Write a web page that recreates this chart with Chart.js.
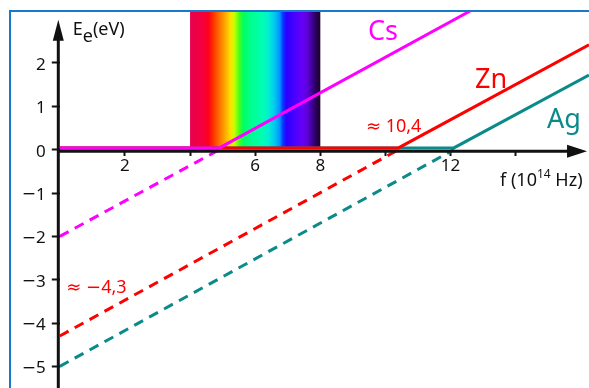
<!DOCTYPE html>
<html>
<head>
<meta charset="utf-8">
<script src="https://cdn.jsdelivr.net/npm/chart.js@4"></script>
<style>
  html, body { margin: 0; padding: 0; background: #fff; overflow: hidden; }
  #wrap { position: relative; width: 589px; height: 388px; }
  #frame {
    position: absolute; left: 9px; top: 10px; width: 700px; height: 500px;
    border-left: 2.5px solid #1a78cc; border-top: 2.5px solid #1a78cc;
    pointer-events: none;
  }
</style>
</head>
<body>
<div id="wrap">
  <canvas id="photo" width="589" height="388"></canvas>
  <div id="frame"></div>
</div>
<script>
  // photoelectric effect: kinetic energy of the electrons vs. light frequency
  const metals = ['Cs', 'Zn', 'Ag'];
  const metalColors = ['#ff00ff', '#ff0000', '#0b8a8a'];
  const intercepts = [-2.0, -4.3, -5.0];   // E_e at f = 0, eV
  const thresholds = [4.9, 10.4, 12.1];    // threshold frequency, 10^14 Hz
  const lineEnds = [[12.6, 3.2], [16.25, 2.42], [16.25, 1.72]];  // where each line leaves the plot
  const zeroLevel = 0.04;                   // flat parts sit just on top of the f axis

  const xTickValues = [2, 4, 6, 8, 10, 12, 14];
  const xTickLabels = ['2', '', '6', '8', '', '12', ''];
  const yTickValues = [-5, -4, -3, -2, -1, 0, 1, 2];
  const yTickLabels = ['−5', '−4', '−3', '−2', '−1', '0', '1', '2'];

  const visibleLight = [4, 8];  // 10^14 Hz
  const arrowTips = { f: 16.19, E: 3.0 };

  const datasets = [];
  metals.forEach((m, i) => {
    datasets.push({
      label: m,
      data: [
        { x: 0, y: zeroLevel },
        { x: thresholds[i], y: zeroLevel },
        { x: lineEnds[i][0], y: lineEnds[i][1] }
      ],
      borderColor: metalColors[i],
      borderWidth: 3,
      order: i
    });
    datasets.push({
      label: m + ' (extrapolated)',
      data: [
        { x: 0, y: intercepts[i] },
        { x: thresholds[i], y: 0 }
      ],
      borderColor: metalColors[i],
      borderWidth: 3,
      borderDash: [10, 7],
      order: i + 3
    });
  });

  // minus and ≈ are taken from DejaVu Sans (wider), the rest from Noto Sans
  function drawMixed(ctx, text, x, y, size, align) {
    const parts = text.split(/([−≈])/).filter(Boolean);
    const fontFor = p => (p === '−' || p === '≈') ? size + 'px "DejaVu Sans"' : size + 'px "Noto Sans"';
    let w = 0;
    parts.forEach(p => { ctx.font = fontFor(p); w += ctx.measureText(p).width; });
    let cx = align === 'right' ? x - w : x;
    parts.forEach(p => {
      ctx.font = fontFor(p);
      ctx.fillText(p, cx, y);
      cx += ctx.measureText(p).width;
    });
  }

  const spectrumPlugin = {
    id: 'spectrum',
    beforeDatasetsDraw(chart) {
      const { ctx, chartArea, scales: { x, y } } = chart;
      const x0 = x.getPixelForValue(visibleLight[0]);
      const x1 = x.getPixelForValue(visibleLight[1]);
      const g = ctx.createLinearGradient(x0, 0, x1, 0);
      [
        [0, '#e8004e'], [0.1, '#f5003c'], [0.14, '#ff0020'], [0.17, '#ff2800'],
        [0.22, '#ff6a00'], [0.27, '#ffaa00'], [0.31, '#ffe000'], [0.34, '#c8ff00'],
        [0.38, '#40ff20'], [0.41, '#00ff60'], [0.47, '#00ff90'], [0.55, '#00ffb0'],
        [0.6, '#00f0d0'], [0.65, '#00c8f0'], [0.69, '#0090ff'], [0.71, '#0040ff'],
        [0.74, '#2800ff'], [0.8, '#4800ff'], [0.86, '#6400f8'], [0.9, '#6000d8'],
        [0.94, '#3c0090'], [0.97, '#280050'], [1, '#1e0030']
      ].forEach(s => g.addColorStop(s[0], s[1]));
      ctx.save();
      ctx.fillStyle = g;
      ctx.fillRect(x0, chartArea.top, x1 - x0, y.getPixelForValue(0) - chartArea.top - 2);
      ctx.restore();
    }
  };

  // axis lines with arrow heads, plus axis titles and line labels
  const axesPlugin = {
    id: 'axes',
    afterDatasetsDraw(chart) {
      const { ctx, chartArea, scales: { x, y } } = chart;
      const ax = x.getPixelForValue(0) - 1.5;
      const ay = y.getPixelForValue(0) + 1.5;
      const tipX = x.getPixelForValue(arrowTips.f);
      const tipY = y.getPixelForValue(arrowTips.E);
      ctx.save();
      ctx.strokeStyle = '#111';
      ctx.fillStyle = '#111';
      ctx.lineWidth = 3;
      ctx.beginPath();
      ctx.moveTo(ax - 1.5, ay);
      ctx.lineTo(tipX - 18, ay);
      ctx.moveTo(ax, chartArea.bottom + 2);
      ctx.lineTo(ax, tipY + 18);
      ctx.stroke();
      ctx.beginPath();
      ctx.moveTo(tipX, ay);
      ctx.lineTo(tipX - 20, ay - 6.5);
      ctx.lineTo(tipX - 20, ay + 6.5);
      ctx.closePath();
      ctx.moveTo(ax, tipY);
      ctx.lineTo(ax - 5.5, tipY + 21);
      ctx.lineTo(ax + 5.5, tipY + 21);
      ctx.closePath();
      ctx.fill();
      ctx.restore();
    },
    afterDraw(chart) {
      const { ctx, scales: { x, y } } = chart;
      const px = v => x.getPixelForValue(v);
      const py = v => y.getPixelForValue(v);
      ctx.save();
      ctx.textAlign = 'left';

      // E_e tick labels
      ctx.fillStyle = '#111';
      ctx.textBaseline = 'middle';
      yTickValues.forEach((v, i) => drawMixed(ctx, yTickLabels[i], px(0) - 14, py(v) + 2, 17, 'right'));
      ctx.textBaseline = 'alphabetic';

      // axis titles
      ctx.font = '18px "Noto Sans"';
      let cx = px(0) + 13;
      ctx.fillText('E', cx, py(2.64));
      cx += ctx.measureText('E').width;
      ctx.fillText('e', cx, py(2.49));
      cx += ctx.measureText('e').width;
      ctx.fillText('(eV)', cx, py(2.64));

      cx = px(13.52);
      ctx.fillText('f (10', cx, py(-0.83));
      cx += ctx.measureText('f (10').width;
      ctx.font = '12px "Noto Sans"';
      ctx.fillText('14', cx, py(-0.66));
      cx += ctx.measureText('14').width;
      ctx.font = '18px "Noto Sans"';
      ctx.fillText(' Hz)', cx, py(-0.83));

      // metal names
      ctx.font = '27px "Noto Sans"';
      ctx.fillStyle = metalColors[0];
      ctx.fillText('Cs', px(9.46), py(2.54));
      ctx.fillStyle = metalColors[1];
      ctx.fillText('Zn', px(12.75), py(1.42));
      ctx.fillStyle = metalColors[2];
      ctx.fillText('Ag', px(14.96), py(0.5));

      // read-offs for zinc
      ctx.fillStyle = metalColors[1];
      drawMixed(ctx, '≈ 10,4', px(9.4), py(0.41), 18);
      drawMixed(ctx, '≈ −4,3', px(0.2), py(-3.31), 18);
      ctx.restore();
    }
  };

  new Chart(document.getElementById('photo'), {
    type: 'scatter',
    data: { datasets: datasets },
    options: {
      responsive: false,
      animation: false,
      events: [],
      showLine: true,
      elements: {
        point: { radius: 0 },
        line: { tension: 0, borderCapStyle: 'butt' }
      },
      layout: { padding: { left: 0, top: 11, right: 0, bottom: 0 } },
      plugins: { legend: { display: false }, tooltip: { enabled: false } },
      scales: {
        x: {
          type: 'linear',
          min: 0,
          max: 16.25,
          position: { y: 0 },
          afterBuildTicks: s => { s.ticks = xTickValues.map(v => ({ value: v })); },
          afterFit: s => { s.height = 0; s.paddingLeft = 0; s.paddingRight = 0; },
          border: { display: false },
          grid: { drawOnChartArea: false, tickLength: 6, tickWidth: 2, tickColor: '#111' },
          ticks: {
            autoSkip: false,
            maxRotation: 0,
            padding: 0,
            color: '#111',
            font: { family: 'Noto Sans', size: 17 },
            callback: v => xTickLabels[xTickValues.indexOf(v)]
          }
        },
        y: {
          type: 'linear',
          min: -5.5,
          max: 3.2,
          position: 'left',
          afterBuildTicks: s => { s.ticks = yTickValues.map(v => ({ value: v })); },
          afterFit: s => { s.width = 59.8; s.paddingTop = 0; s.paddingBottom = 0; },
          border: { display: false },
          grid: { drawOnChartArea: false, tickLength: 8, tickWidth: 2, tickColor: '#111' },
          // labels are drawn by the axes plugin (mixed fonts)
          ticks: { display: false }
        }
      }
    },
    plugins: [spectrumPlugin, axesPlugin]
  });
</script>
</body>
</html>
